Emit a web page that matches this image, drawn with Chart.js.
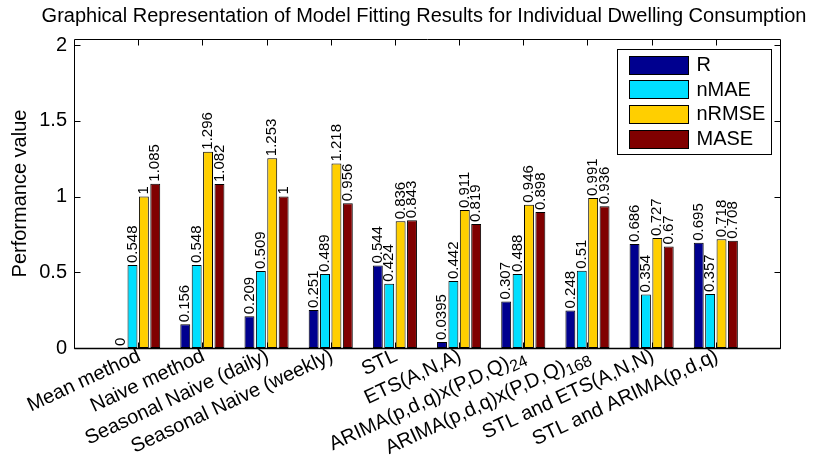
<!DOCTYPE html>
<html>
<head>
<meta charset="utf-8">
<title>Model Fitting Results</title>
<script src="https://cdn.jsdelivr.net/npm/chart.js@4.4.1/dist/chart.umd.min.js"></script>
<style>
  html, body { margin: 0; padding: 0; background: #ffffff; }
  #wrap { width: 816px; height: 459px; }
</style>
</head>
<body>
<div id="wrap"><canvas id="chart" width="816" height="459"></canvas></div>
<script>
// Forecasting methods (a "_" marks the start of a subscript in the label)
const methods = [
  'Mean method',
  'Naive method',
  'Seasonal Naive (daily)',
  'Seasonal Naive (weekly)',
  'STL',
  'ETS(A,N,A)',
  'ARIMA(p,d,q)x(P,D,Q)_24',
  'ARIMA(p,d,q)x(P,D,Q)_168',
  'STL and ETS(A,N,N)',
  'STL and ARIMA(p,d,q)'
];

const seriesNames = ['R', 'nMAE', 'nRMSE', 'MASE'];

const valuesR     = [0, 0.156, 0.209, 0.251, 0.544, 0.0395, 0.307, 0.248, 0.686, 0.695];
const valuesNMAE  = [0.548, 0.548, 0.509, 0.489, 0.424, 0.442, 0.488, 0.51, 0.354, 0.357];
const valuesNRMSE = [1, 1.296, 1.253, 1.218, 0.836, 0.911, 0.946, 0.991, 0.727, 0.718];
const valuesMASE  = [1.085, 1.082, 1, 0.956, 0.843, 0.819, 0.898, 0.936, 0.67, 0.708];

const yTickValues = [0, 0.5, 1, 1.5, 2];

const titleText = 'Graphical Representation of Model Fitting Results for Individual Dwelling Consumption';
const yTitleText = 'Performance value';

const seriesColors = ['#00008f', '#00dfff', '#ffcf00', '#800000'];
const FONT = '"Liberation Sans", Arial, Helvetica, sans-serif';

const seriesValues = [valuesR, valuesNMAE, valuesNRMSE, valuesMASE];

const datasets = seriesNames.map((name, s) => ({
  label: name,
  data: seriesValues[s].map((v, i) => ({ x: i + 1, y: v })),
  backgroundColor: seriesColors[s],
  borderColor: '#000000',
  borderWidth: 1,
  borderSkipped: false,
  categoryPercentage: 0.71,
  barPercentage: 0.87
}));

// Title above the axes box
const titlePlugin = {
  id: 'axesTitle',
  afterDraw(chart) {
    const { ctx, chartArea } = chart;
    ctx.save();
    ctx.font = '20px ' + FONT;
    ctx.fillStyle = '#000';
    ctx.textAlign = 'center';
    ctx.textBaseline = 'alphabetic';
    ctx.fillText(titleText, (chartArea.left + chartArea.right) / 2 - 3, 22);
    ctx.restore();
  }
};

// Box around the plot with inward tick marks on all four sides
const boxPlugin = {
  id: 'axesBox',
  afterDatasetsDraw(chart) {
    const { ctx, chartArea: a, scales } = chart;
    const L = Math.round(a.left) + 0.5, R = Math.round(a.right) + 0.5;
    const T = Math.round(a.top) + 0.5, B = Math.round(a.bottom) + 0.5;
    const len = 6;
    ctx.save();
    ctx.strokeStyle = '#000';
    ctx.lineWidth = 1;
    ctx.beginPath();
    ctx.rect(L, T, R - L, B - T);
    yTickValues.forEach(v => {
      const y = Math.round(scales.y.getPixelForValue(v)) + 0.5;
      ctx.moveTo(L, y); ctx.lineTo(L + len, y);
      ctx.moveTo(R, y); ctx.lineTo(R - len, y);
    });
    methods.forEach((m, i) => {
      const x = Math.round(scales.x.getPixelForValue(i + 1)) + 0.5;
      ctx.moveTo(x, T); ctx.lineTo(x, T + len);
      ctx.moveTo(x, B); ctx.lineTo(x, B - len);
    });
    ctx.stroke();
    // slightly heavier baseline
    ctx.lineWidth = 1.6;
    ctx.beginPath();
    ctx.moveTo(L, B); ctx.lineTo(R, B);
    ctx.stroke();
    ctx.restore();
  }
};

// Vertical value labels on top of each bar
const valueLabelPlugin = {
  id: 'valueLabels',
  afterDatasetsDraw(chart) {
    const { ctx } = chart;
    ctx.save();
    ctx.font = '15px ' + FONT;
    ctx.fillStyle = '#000';
    ctx.textAlign = 'left';
    ctx.textBaseline = 'middle';
    chart.data.datasets.forEach((ds, di) => {
      const meta = chart.getDatasetMeta(di);
      meta.data.forEach((bar, i) => {
        ctx.save();
        ctx.translate(bar.x, bar.y - 2);
        ctx.rotate(-Math.PI / 2);
        ctx.fillText(String(ds.data[i].y), 0, 0);
        ctx.restore();
      });
    });
    ctx.restore();
  }
};

// Slanted category labels, with optional subscripts
const categoryLabelPlugin = {
  id: 'categoryLabels',
  afterDraw(chart) {
    const { ctx, chartArea, scales } = chart;
    const angle = 25 * Math.PI / 180;
    const mainFont = '20px ' + FONT;
    const subFont = '16px ' + FONT;
    ctx.save();
    ctx.fillStyle = '#000';
    ctx.textBaseline = 'top';
    methods.forEach((label, i) => {
      const parts = label.split('_');
      const main = parts[0];
      const sub = parts[1] || '';
      const x = scales.x.getPixelForValue(i + 1) - 3;
      const y = chartArea.bottom - 2;
      ctx.save();
      ctx.translate(x, y);
      ctx.rotate(-angle);
      ctx.font = subFont;
      const subW = sub ? ctx.measureText(sub).width : 0;
      if (sub) {
        ctx.textAlign = 'right';
        ctx.fillText(sub, 0, 8);
      }
      ctx.font = mainFont;
      ctx.textAlign = 'right';
      ctx.fillText(main, -subW, 0);
      ctx.restore();
    });
    ctx.restore();
  }
};

// Boxed legend in the upper right of the plot
const legendPlugin = {
  id: 'boxLegend',
  afterDraw(chart) {
    const { ctx, chartArea: a } = chart;
    const boxR = Math.round(a.right) - 9 + 0.5;
    const boxL = boxR - 154;
    const boxT = Math.round(a.top) + 10 + 0.5;
    const boxH = 105;
    ctx.save();
    ctx.fillStyle = '#fff';
    ctx.fillRect(boxL, boxT, boxR - boxL, boxH);
    ctx.strokeStyle = '#000';
    ctx.lineWidth = 1;
    ctx.strokeRect(boxL, boxT, boxR - boxL, boxH);
    ctx.font = '20px ' + FONT;
    ctx.textAlign = 'left';
    ctx.textBaseline = 'middle';
    chart.data.datasets.forEach((ds, i) => {
      const cy = boxT + 15 + i * 24.7;
      const sx = boxL + 12, sw = 59, sh = 18;
      ctx.fillStyle = ds.backgroundColor;
      ctx.fillRect(sx, Math.round(cy - sh / 2) + 0.5, sw, sh);
      ctx.strokeStyle = '#000';
      ctx.strokeRect(sx, Math.round(cy - sh / 2) + 0.5, sw, sh);
      ctx.fillStyle = '#000';
      ctx.fillText(ds.label, boxL + 79, cy + 1);
    });
    ctx.restore();
  }
};

new Chart(document.getElementById('chart'), {
  type: 'bar',
  data: { datasets },
  options: {
    responsive: false,
    animation: false,
    devicePixelRatio: 1,
    layout: { padding: { left: 0, right: 36, top: 39, bottom: 0 } },
    plugins: {
      legend: { display: false },
      title: { display: false },
      tooltip: { enabled: false }
    },
    scales: {
      x: {
        type: 'linear',
        min: 0,
        max: 11,
        offset: false,
        grid: { display: false, drawTicks: false },
        border: { display: false },
        ticks: { display: false },
        afterFit(scale) { scale.height = 111; }
      },
      y: {
        min: 0,
        max: 2.04,
        grid: { display: false, drawTicks: false },
        border: { display: false },
        afterBuildTicks(scale) { scale.ticks = yTickValues.map(v => ({ value: v })); },
        ticks: {
          padding: 7,
          color: '#000',
          font: { family: FONT, size: 20 },
          callback: v => String(v)
        },
        title: {
          display: true,
          text: yTitleText,
          color: '#000',
          font: { family: FONT, size: 20 },
          padding: { top: 8, bottom: 0 }
        },
        afterFit(scale) { scale.width = 74; }
      }
    }
  },
  plugins: [boxPlugin, valueLabelPlugin, categoryLabelPlugin, legendPlugin, titlePlugin]
});
</script>
</body>
</html>
